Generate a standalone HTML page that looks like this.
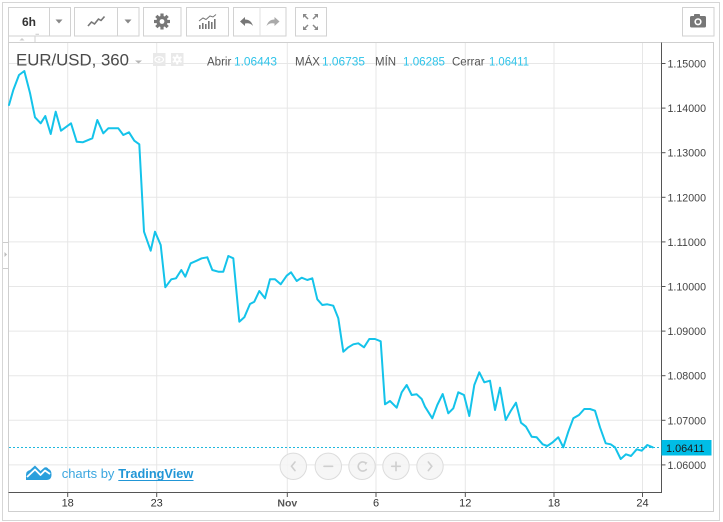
<!DOCTYPE html>
<html>
<head>
<meta charset="utf-8">
<style>
  html,body{margin:0;padding:0;background:#fff;}
  body{width:723px;height:522px;overflow:hidden;}
  svg{display:block;font-family:"Liberation Sans",Arial,sans-serif;}
</style>
</head>
<body>
<svg width="723" height="522" viewBox="0 0 723 522" xmlns="http://www.w3.org/2000/svg">
  <!-- outer frame -->
  <rect x="2.5" y="2.5" width="717" height="518" fill="#fff" stroke="#d6d6d6" stroke-width="1"/>

  <!-- toolbar buttons -->
  <g fill="#fff" stroke="#d2d2d2" stroke-width="1">
    <rect x="8.5" y="7.5" width="62" height="28.5"/>
    <line x1="49.5" y1="7.5" x2="49.5" y2="36"/>
    <rect x="74.5" y="7.5" width="64.5" height="28.5"/>
    <line x1="117.5" y1="7.5" x2="117.5" y2="36"/>
    <rect x="143.5" y="7.5" width="37.5" height="28.5"/>
    <rect x="186.5" y="7.5" width="42" height="28.5"/>
    <rect x="233.5" y="7.5" width="52.5" height="28.5"/>
    <line x1="260" y1="7.5" x2="260" y2="36" stroke="#e2e2e2"/>
    <rect x="295.5" y="7.5" width="31" height="28.5"/>
    <rect x="682.5" y="7.5" width="31.5" height="28.5"/>
  </g>
  <!-- small tab under 6h -->
  <rect x="8.5" y="36" width="26.5" height="6.5" fill="#fff" stroke="#d2d2d2"/>
  <polygon points="19.5,40.5 22,38 24.5,40.5" fill="#ccc"/>
  <line x1="35.5" y1="34.2" x2="39" y2="34.2" stroke="#bbb" stroke-width="0.8"/>

  <text x="29" y="26" font-size="12" font-weight="bold" fill="#333" text-anchor="middle">6h</text>
  <polygon points="55.5,19.5 62.5,19.5 59,23.5" fill="#888"/>
  <polygon points="124.5,19.5 131.5,19.5 128,23.5" fill="#888"/>
  <!-- line icon -->
  <polyline points="88,26 91.5,22 94.5,24 98.5,19 101,20.5 104.5,16.5" fill="none" stroke="#777" stroke-width="1.6" stroke-linejoin="round"/>
  <!-- gear -->
  <g transform="translate(162,21.5)" fill="#777">
    <circle r="5.6"/>
    <g>
      <rect x="-1.6" y="-8" width="3.2" height="16"/>
      <rect x="-1.6" y="-8" width="3.2" height="16" transform="rotate(45)"/>
      <rect x="-1.6" y="-8" width="3.2" height="16" transform="rotate(90)"/>
      <rect x="-1.6" y="-8" width="3.2" height="16" transform="rotate(135)"/>
    </g>
    <circle r="2.4" fill="#fff"/>
  </g>
  <!-- indicators icon -->
  <g fill="#777">
    <rect x="199" y="25" width="1.6" height="4"/>
    <rect x="202" y="23" width="1.6" height="6"/>
    <rect x="205" y="24" width="1.6" height="5"/>
    <rect x="208" y="21" width="1.6" height="8"/>
    <rect x="211" y="22" width="1.6" height="7"/>
    <rect x="214" y="19" width="1.6" height="10"/>
  </g>
  <polyline points="199,21 203,18 206,19.5 210,16 213,17 216,14.5" fill="none" stroke="#777" stroke-width="1"/>
  <!-- undo / redo -->
  <path d="M240,21.5 L245,17 L245,19.5 Q251,19.5 253,26 Q250,22.5 245,23.5 L245,26 Z" fill="#777"/>
  <path d="M279.5,21.5 L274.5,17 L274.5,19.5 Q268.5,19.5 266.5,26 Q269.5,22.5 274.5,23.5 L274.5,26 Z" fill="#aaa"/>
  <!-- fullscreen -->
  <g stroke="#888" stroke-width="1.5" fill="#888">
    <line x1="304" y1="15" x2="308" y2="19"/>
    <polygon points="303,14 307,14 303,18" stroke="none"/>
    <line x1="317" y1="15" x2="313" y2="19"/>
    <polygon points="318,14 314,14 318,18" stroke="none"/>
    <line x1="304" y1="29" x2="308" y2="25"/>
    <polygon points="303,30 307,30 303,26" stroke="none"/>
    <line x1="317" y1="29" x2="313" y2="25"/>
    <polygon points="318,30 314,30 318,26" stroke="none"/>
  </g>
  <!-- camera -->
  <g fill="#777">
    <rect x="690" y="16" width="16" height="11.5" rx="1.5"/>
    <rect x="694" y="14" width="6" height="3" rx="0.8"/>
    <circle cx="698" cy="21.8" r="3.6" fill="#fff"/>
    <circle cx="698" cy="21.8" r="2" fill="#777"/>
  </g>

  <!-- chart pane -->
  <rect x="8.5" y="42.5" width="705" height="469" fill="#fff" stroke="#cfcfcf" stroke-width="1"/>

  <!-- left handle -->
  <line x1="3" y1="242.5" x2="8" y2="242.5" stroke="#ccc"/>
  <line x1="3" y1="268.5" x2="8" y2="268.5" stroke="#ccc"/>
  <polygon points="4.5,252 7,254.5 4.5,257" fill="#bbb"/>

  <!-- grid -->
  <g stroke="#e7e7e7" stroke-width="1">
    <line x1="9" y1="63.5" x2="661" y2="63.5"/>
    <line x1="9" y1="108.1" x2="661" y2="108.1"/>
    <line x1="9" y1="152.7" x2="661" y2="152.7"/>
    <line x1="9" y1="197.3" x2="661" y2="197.3"/>
    <line x1="9" y1="241.9" x2="661" y2="241.9"/>
    <line x1="9" y1="286.5" x2="661" y2="286.5"/>
    <line x1="9" y1="331.1" x2="661" y2="331.1"/>
    <line x1="9" y1="375.7" x2="661" y2="375.7"/>
    <line x1="9" y1="420.3" x2="661" y2="420.3"/>
    <line x1="9" y1="464.9" x2="661" y2="464.9"/>
    <line x1="67.7" y1="43" x2="67.7" y2="492"/>
    <line x1="156.7" y1="43" x2="156.7" y2="492"/>
    <line x1="287.3" y1="43" x2="287.3" y2="492"/>
    <line x1="376" y1="43" x2="376" y2="492"/>
    <line x1="465.3" y1="43" x2="465.3" y2="492"/>
    <line x1="554" y1="43" x2="554" y2="492"/>
    <line x1="642.5" y1="43" x2="642.5" y2="492"/>
  </g>

  <!-- legend -->
  <text x="16" y="65.5" font-size="16.5" fill="#4a4a4a" textLength="113" lengthAdjust="spacingAndGlyphs">EUR/USD, 360</text>
  <polygon points="135,60.5 142,60.5 138.5,63.5" fill="#b5b5b5"/>
  <rect x="153" y="53" width="12.5" height="13" fill="#e9e9e9"/>
  <ellipse cx="159.2" cy="59.5" rx="4.3" ry="2.8" fill="none" stroke="#fff" stroke-width="1.2"/>
  <circle cx="159.2" cy="59.5" r="1.2" fill="#fff"/>
  <rect x="171" y="53" width="12.5" height="13" fill="#e9e9e9"/>
  <g transform="translate(177.2,59.5)" fill="#fff">
    <circle r="3.3"/>
    <rect x="-1" y="-5" width="2" height="10"/>
    <rect x="-1" y="-5" width="2" height="10" transform="rotate(60)"/>
    <rect x="-1" y="-5" width="2" height="10" transform="rotate(120)"/>
    <circle r="1.3" fill="#e9e9e9"/>
  </g>
  <g font-size="11.5">
    <text x="207" y="65.5" fill="#555">Abrir</text>
    <text x="234" y="65.5" fill="#2ec3e9" textLength="43" lengthAdjust="spacingAndGlyphs">1.06443</text>
    <text x="295" y="65.5" fill="#555">MÁX</text>
    <text x="322" y="65.5" fill="#2ec3e9" textLength="43" lengthAdjust="spacingAndGlyphs">1.06735</text>
    <text x="375" y="65.5" fill="#555">MÍN</text>
    <text x="403" y="65.5" fill="#2ec3e9" textLength="42" lengthAdjust="spacingAndGlyphs">1.06285</text>
    <text x="452" y="65.5" fill="#555">Cerrar</text>
    <text x="489" y="65.5" fill="#2ec3e9" textLength="40" lengthAdjust="spacingAndGlyphs">1.06411</text>
  </g>

  <!-- last price dashed line -->
  <line x1="9" y1="447.5" x2="661" y2="447.5" stroke="#1fb8de" stroke-width="1" stroke-dasharray="2,2"/>

  <!-- series -->
  <polyline fill="none" stroke="#14c3ea" stroke-width="2" stroke-linejoin="round" stroke-linecap="round"
    points="9,105 13.3,90 19,75 24.3,71 30,93 35,117.3 40.7,123.3 45.3,116 50.7,134 55.7,111.7 61,130.7 71,123.3 76.7,141.7 82.7,142.3 92.3,138.3 97.3,120 103.3,133.3 108.3,128.3 118.3,128.3 123.3,135 129,132.3 134.3,140.7 139.3,144.3 144,231.7 150.7,250.7 155,231.7 160.7,245 165.3,287.3 171.3,279.3 176,278.3 181.3,270 185.3,276.7 190.7,263.3 196.7,260.7 201.7,258.3 207.3,257.3 212.3,270 218.3,271.7 223.3,271.7 228.3,256 233.3,258.3 239.3,321.7 244.3,317.3 250,304 254.3,301.7 259.3,291 265,298.3 270,279.3 275,279.3 280.7,284.3 286.7,275.7 291,272.3 296.7,281 301.7,277.7 307.3,280 312.3,278.3 317.3,299.3 322.3,305 327.3,304.3 333.3,305.7 338.3,318.3 343.3,351.7 348.3,347.3 353.3,344.3 358.3,343.3 364,347.3 369.3,339 375,339 380.7,341.3 385,404.3 390,401 396.7,407.7 401.7,392.3 406.7,385 411.7,395 416.7,394.3 421.7,399 425,406.7 432.3,418.3 437.3,405 442.7,394 448.3,413.3 453.3,408.3 458.3,392.3 464,395 469.3,416 474.3,385 479.3,372.3 484.3,382.3 490,380.7 495,410 500,387.7 505.7,420 510.7,411 516,402.7 521,422.7 526,426.7 531.7,436.7 536.7,437.3 542.7,444.3 547.3,446 552.7,442.3 558.3,437.3 563.3,447.3 568.3,431.7 573.3,418.3 579,415 584.3,409 590,409 595,410.7 600,427.3 605.7,443.3 610.7,444.3 615,447.3 620.7,459 626,454.3 631,456 636.7,449.3 641.7,450.7 647.3,445 652.7,447.3"/>

  <!-- logo -->
  <path d="M26,480 L26,475 Q26,471 30,470 L35,465.5 L40.5,471 L44.5,467.5 Q47,466.5 48.5,469 Q51.5,470 51.5,474.5 Q51.5,480 46.5,480 Z" fill="#2a9fdc"/>
  <polyline points="27,477 35,469.5 40.5,475 45,470.5 50,474" fill="none" stroke="#fff" stroke-width="1.8" stroke-linejoin="round"/>
  <text x="61.7" y="478" font-size="13" fill="#3aa6df">charts by</text>
  <text x="118.3" y="478" font-size="13" font-weight="bold" fill="#2196d6" textLength="75" lengthAdjust="spacingAndGlyphs">TradingView</text>
  <line x1="118.3" y1="480.5" x2="193.5" y2="480.5" stroke="#2196d6" stroke-width="1"/>

  <!-- nav buttons -->
  <g fill="#f5f5f5" fill-opacity="0.85" stroke="#dcdcdc" stroke-width="1">
    <circle cx="293.3" cy="466.3" r="13.2"/>
    <circle cx="328.3" cy="466.3" r="13.2"/>
    <circle cx="362" cy="466.3" r="13.2"/>
    <circle cx="396" cy="466.3" r="13.2"/>
    <circle cx="430" cy="466.3" r="13.2"/>
  </g>
  <g stroke="#cfcfcf" stroke-width="1.6" fill="none" stroke-linecap="round">
    <polyline points="295,462 291.5,466.3 295,470.6"/>
    <line x1="324" y1="466.3" x2="332.6" y2="466.3"/>
    <path d="M365.8,463 A4.6,4.6 0 1 0 366.3,469.5"/>
    <line x1="391.7" y1="466.3" x2="400.3" y2="466.3"/>
    <line x1="396" y1="462" x2="396" y2="470.6"/>
    <polyline points="428.3,462 431.8,466.3 428.3,470.6"/>
  </g>
  <polygon points="364,461.5 367.5,462.5 365.5,465" fill="#cfcfcf"/>

  <!-- axes -->
  <line x1="661.5" y1="42.5" x2="661.5" y2="493" stroke="#555" stroke-width="1"/>
  <line x1="8.5" y1="492.5" x2="661.5" y2="492.5" stroke="#555" stroke-width="1"/>

  <!-- price axis ticks & labels -->
  <g stroke="#555" stroke-width="1">
    <line x1="661.5" y1="63.5" x2="665.5" y2="63.5"/>
    <line x1="661.5" y1="108.1" x2="665.5" y2="108.1"/>
    <line x1="661.5" y1="152.7" x2="665.5" y2="152.7"/>
    <line x1="661.5" y1="197.3" x2="665.5" y2="197.3"/>
    <line x1="661.5" y1="241.9" x2="665.5" y2="241.9"/>
    <line x1="661.5" y1="286.5" x2="665.5" y2="286.5"/>
    <line x1="661.5" y1="331.1" x2="665.5" y2="331.1"/>
    <line x1="661.5" y1="375.7" x2="665.5" y2="375.7"/>
    <line x1="661.5" y1="420.3" x2="665.5" y2="420.3"/>
    <line x1="661.5" y1="464.9" x2="665.5" y2="464.9"/>
  </g>
  <g font-size="11" fill="#444">
    <text x="667.5" y="67.5" textLength="38.5" lengthAdjust="spacingAndGlyphs">1.15000</text>
    <text x="667.5" y="112.1" textLength="38.5" lengthAdjust="spacingAndGlyphs">1.14000</text>
    <text x="667.5" y="156.7" textLength="38.5" lengthAdjust="spacingAndGlyphs">1.13000</text>
    <text x="667.5" y="201.3" textLength="38.5" lengthAdjust="spacingAndGlyphs">1.12000</text>
    <text x="667.5" y="245.9" textLength="38.5" lengthAdjust="spacingAndGlyphs">1.11000</text>
    <text x="667.5" y="290.5" textLength="38.5" lengthAdjust="spacingAndGlyphs">1.10000</text>
    <text x="667.5" y="335.1" textLength="38.5" lengthAdjust="spacingAndGlyphs">1.09000</text>
    <text x="667.5" y="379.7" textLength="38.5" lengthAdjust="spacingAndGlyphs">1.08000</text>
    <text x="667.5" y="424.3" textLength="38.5" lengthAdjust="spacingAndGlyphs">1.07000</text>
    <text x="667.5" y="468.9" textLength="38.5" lengthAdjust="spacingAndGlyphs">1.06000</text>
  </g>
  <!-- last price label -->
  <rect x="661.5" y="440" width="50" height="15.5" fill="#00bde6"/>
  <text x="666" y="451.8" font-size="11" fill="#1a1a1a" textLength="38.5" lengthAdjust="spacingAndGlyphs">1.06411</text>

  <!-- time axis ticks & labels -->
  <g stroke="#555" stroke-width="1">
    <line x1="67.7" y1="493" x2="67.7" y2="497"/>
    <line x1="156.7" y1="493" x2="156.7" y2="497"/>
    <line x1="287.3" y1="493" x2="287.3" y2="497"/>
    <line x1="376" y1="493" x2="376" y2="497"/>
    <line x1="465.3" y1="493" x2="465.3" y2="497"/>
    <line x1="554" y1="493" x2="554" y2="497"/>
    <line x1="642.5" y1="493" x2="642.5" y2="497"/>
  </g>
  <g font-size="11" fill="#333" text-anchor="middle">
    <text x="67.7" y="506.5">18</text>
    <text x="156.7" y="506.5">23</text>
    <text x="287.3" y="506.5" font-weight="bold" fill="#555" font-size="10.5">Nov</text>
    <text x="376" y="506.5">6</text>
    <text x="465.3" y="506.5">12</text>
    <text x="554" y="506.5">18</text>
    <text x="642.5" y="506.5">24</text>
  </g>
</svg>
</body>
</html>
